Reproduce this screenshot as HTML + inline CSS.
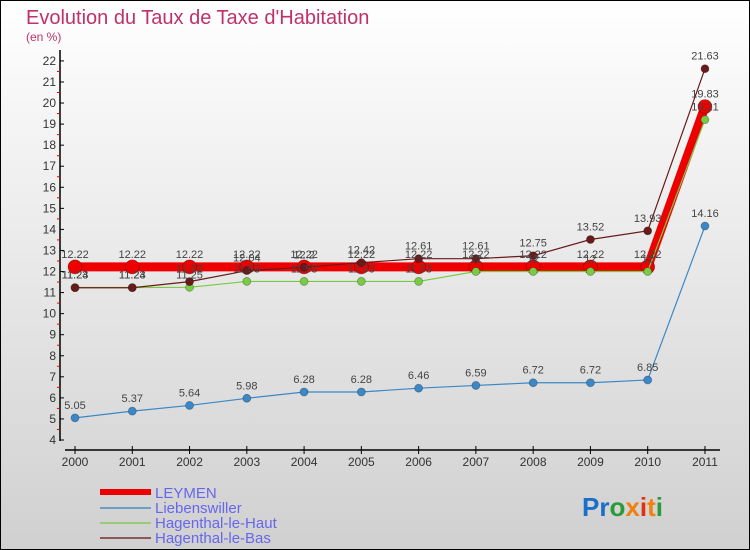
<!DOCTYPE html>
<html><head><meta charset="utf-8"><style>
body{margin:0}
svg{display:block;font-family:"Liberation Sans",sans-serif}
</style></head><body>
<svg id="c" width="750" height="550" viewBox="0 0 750 550">
<defs><linearGradient id="bg" x1="0" y1="0" x2="0" y2="1"><stop offset="0" stop-color="#ffffff"/><stop offset="1" stop-color="#d0d0d0"/></linearGradient></defs>
<rect x="0.5" y="0.5" width="749" height="549" fill="url(#bg)" stroke="#000"/>
<text x="26" y="24" font-size="20" fill="#c0306a">Evolution du Taux de Taxe d'Habitation</text>
<text x="26" y="41" font-size="12" fill="#c0306a">(en %)</text>
<g id="axes"></g><g id="series"></g><g id="labels"></g>
<g>
<rect x="100" y="489" width="51" height="6" fill="#ee0000"/>
<rect x="100" y="507" width="51" height="2" fill="#6a9fc8"/>
<rect x="100" y="522" width="51" height="2" fill="#99cc77"/>
<rect x="100" y="537" width="51" height="2" fill="#8a5a5a"/>
<text x="155" y="498" font-size="15" fill="#6666ee">LEYMEN</text>
<text x="155" y="513" font-size="15" fill="#6666ee">Liebenswiller</text>
<text x="155" y="528" font-size="15" fill="#6666ee">Hagenthal-le-Haut</text>
<text x="155" y="543" font-size="15" fill="#6666ee">Hagenthal-le-Bas</text>
</g>
<text x="582" y="516" font-size="26" font-weight="bold"><tspan fill="#1a6fc8">Pr</tspan><tspan fill="#2a9a3a">o</tspan><tspan fill="#f08010">x</tspan><tspan fill="#e03010">i</tspan><tspan fill="#f08010">t</tspan><tspan fill="#2a9a3a">i</tspan></text>
</svg>
<script>
const years=["2000","2001","2002","2003","2004","2005","2006","2007","2008","2009","2010","2011"];
const leymen=[12.22,12.22,12.22,12.22,12.22,12.22,12.22,12.22,12.22,12.22,12.22,19.83];
const liebenswiller=[5.05,5.37,5.64,5.98,6.28,6.28,6.46,6.59,6.72,6.72,6.85,14.16];
const haut=[11.24,11.24,11.25,11.53,11.53,11.53,11.53,12,12,12,12,19.21];
const bas=[11.23,11.23,11.52,12.04,12.2,12.42,12.61,12.61,12.75,13.52,13.93,21.63];
const yTicks=[4,5,6,7,8,9,10,11,12,13,14,15,16,17,18,19,20,21,22];
const NS="http://www.w3.org/2000/svg";
const X=i=>75+i*57.27, Y=v=>440-(v-4)*21.06;
function mk(t,a,p){const e=document.createElementNS(NS,t);for(const k in a)e.setAttribute(k,a[k]);document.getElementById(p).appendChild(e);return e;}
let e=mk('line',{x1:60,y1:50,x2:60,y2:441,stroke:'#000','stroke-width':1.5},'axes');

e=mk('line',{x1:65,y1:450,x2:720,y2:450,stroke:'#000','stroke-width':1.5},'axes');

yTicks.forEach(v=>{
 mk('line',{x1:60,y1:Y(v),x2:64,y2:Y(v),stroke:'#000'},'axes');
 if(v<22){const m=mk('line',{x1:57,y1:Y(v+0.5),x2:60,y2:Y(v+0.5),stroke:'#e00'},'axes');
 }
 const t=mk('text',{x:56,y:Y(v)+4,'font-size':12,'text-anchor':'end',fill:'#333'},'axes');t.textContent=v;
 
});
years.forEach((y,i)=>{
 mk('line',{x1:X(i),y1:446,x2:X(i),y2:454,stroke:'#000'},'axes');
 const t=mk('text',{x:X(i),y:466,'font-size':12,'text-anchor':'middle',fill:'#333'},'axes');t.textContent=y;
 
});
function series(name,vals,color,w,r){
 const l=mk('polyline',{points:vals.map((v,i)=>X(i)+','+Y(v)).join(' '),fill:'none',stroke:color,'stroke-width':w},'series');
 
 vals.forEach((v,i)=>{const c=mk('circle',{cx:X(i),cy:Y(v),r:r,fill:color,stroke:'rgba(0,0,0,0.3)','stroke-width':0.8},'series');
 
 const t=mk('text',{x:X(i),y:Y(v)-9,'font-size':11,'text-anchor':'middle',fill:'#444'},'labels');t.textContent=v;
 });
}
series('liebenswiller',liebenswiller,'#3a88c8',1.2,4);
series('leymen',leymen,'#ee0000',9,7);
series('hagenthal-le-haut',haut,'#77cc44',1.2,4);
series('hagenthal-le-bas',bas,'#6a1a1a',1.2,4);
</script>
</body></html>
